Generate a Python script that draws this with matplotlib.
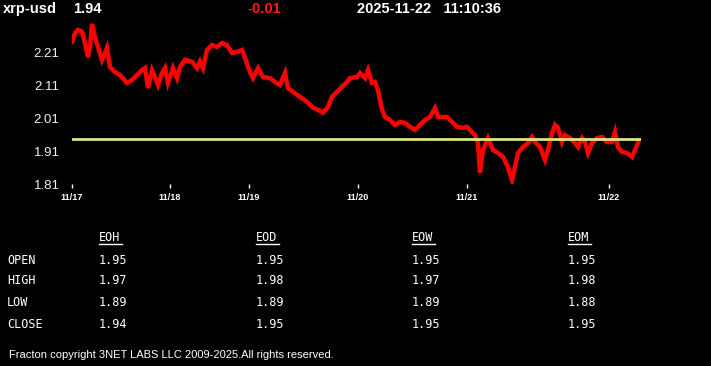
import matplotlib
matplotlib.use("Agg")
import matplotlib.pyplot as plt
from matplotlib.lines import Line2D

# price trace (sample position, price)
pos = [0, 3, 6, 10, 13, 16, 18, 20, 23, 26, 30, 33, 35, 38, 43, 48, 55, 60, 65, 70,
       73, 76, 80, 83, 86, 90, 93, 96, 101, 105, 108, 113, 120, 125, 128, 131, 135, 140,
       145, 150, 155, 160, 165, 170, 173, 178, 181, 186, 191, 198, 203, 208, 213, 216,
       221, 228, 235, 241, 246, 251, 256, 260, 265, 270, 275, 278, 285, 288, 293, 296,
       300, 303, 306, 310, 313, 318, 323, 328, 333, 338, 343, 348, 353, 358, 363, 366,
       370, 375, 380, 385, 390, 395, 400, 403, 406, 408, 411, 416, 421, 426, 431, 436,
       440, 443, 446, 451, 456, 460, 463, 468, 473, 476, 480, 483, 486, 490, 493, 498,
       503, 506, 510, 513, 516, 520, 525, 530, 535, 540, 543, 546, 550, 555, 560, 563, 566]
price = [2.242, 2.268, 2.278, 2.272, 2.238, 2.196, 2.226, 2.296, 2.256, 2.226, 2.187,
         2.208, 2.223, 2.165, 2.150, 2.141, 2.117, 2.126, 2.141, 2.156, 2.162, 2.102,
         2.156, 2.135, 2.111, 2.147, 2.162, 2.117, 2.162, 2.132, 2.165, 2.187, 2.181,
         2.162, 2.182, 2.162, 2.217, 2.232, 2.226, 2.238, 2.232, 2.208, 2.211, 2.217,
         2.193, 2.150, 2.132, 2.162, 2.135, 2.132, 2.120, 2.111, 2.147, 2.102, 2.090,
         2.075, 2.060, 2.042, 2.036, 2.027, 2.044, 2.075, 2.090, 2.105, 2.120, 2.132,
         2.135, 2.147, 2.132, 2.156, 2.117, 2.120, 2.096, 2.036, 2.014, 2.005, 1.990,
         1.999, 1.996, 1.984, 1.975, 1.990, 2.005, 2.014, 2.041, 2.014, 2.014, 2.014,
         1.999, 1.984, 1.981, 1.984, 1.968, 1.959, 1.935, 1.845, 1.914, 1.950, 1.914,
         1.905, 1.893, 1.862, 1.823, 1.862, 1.905, 1.923, 1.935, 1.953, 1.938, 1.923,
         1.884, 1.914, 1.965, 1.990, 1.981, 1.938, 1.959, 1.950, 1.935, 1.923, 1.950,
         1.938, 1.905, 1.935, 1.950, 1.953, 1.938, 1.938, 1.968, 1.923, 1.908, 1.905,
         1.893, 1.914, 1.935]
ref_level = 1.947

tick_pos = [0, 98, 177, 286, 395, 537]
tick_lbl = ["11/17", "11/18", "11/19", "11/20", "11/21", "11/22"]
y_ticks = [1.81, 1.91, 2.01, 2.11, 2.21]

symbol = "xrp-usd"
last = "1.94"
change = "-0.01"
stamp = "2025-11-22   11:10:36"

cols = ["EOH", "EOD", "EOW", "EOM"]
rows = ["OPEN", "HIGH", "LOW", "CLOSE"]
table = [["1.95", "1.95", "1.95", "1.95"],
         ["1.97", "1.98", "1.97", "1.98"],
         ["1.89", "1.89", "1.89", "1.88"],
         ["1.94", "1.95", "1.95", "1.95"]]

W, H = 711, 366
fig = plt.figure(figsize=(W / 100, H / 100), dpi=100, facecolor="black")
ax = fig.add_axes([72 / W, 1 - 184.3 / H, 569 / W, 168.3 / H], facecolor="black")

ax.plot(pos, price, color="#ff0000", lw=3.2, solid_joinstyle="miter")
ax.axhline(ref_level, color="#dce682", lw=2)
ax.set_xlim(0, 569)
ax.set_ylim(1.81, 2.32)
for s in ax.spines.values():
    s.set_visible(False)
ax.set_xticks(tick_pos)
ax.set_xticklabels(tick_lbl, fontsize=6.5, fontweight="bold", family="Liberation Sans")
ax.set_yticks(y_ticks)
ax.set_yticklabels(["%.2f" % v for v in y_ticks], fontsize=9.5, family="Liberation Sans")
ax.tick_params(axis="x", colors="white", length=3, width=1, pad=3)
ax.tick_params(axis="y", colors="#f0f0f0", length=0, pad=9)

# header line
hdr = dict(fontsize=10.5, fontweight="bold", family="Liberation Sans", va="center")
fig.text(3 / W, 1 - 9 / H, symbol, color="white", **hdr)
fig.text(73 / W, 1 - 9 / H, last, color="white", **hdr)
fig.text(247 / W, 1 - 9 / H, change, color="#ff1a1a", **hdr)
fig.text(357 / W, 1 - 9 / H, stamp, color="white", **hdr)

# OHLC table
col_x = [99, 256, 412, 568]
row_y = [260, 281, 303, 325]
mono = dict(fontsize=8.5, family="DejaVu Sans Mono", color="white", va="center")
for cx, name in zip(col_x, cols):
    t = fig.text(cx / W, 1 - 238 / H, name, **mono)
    fig.add_artist(Line2D([cx / W, (cx + 23) / W], [1 - 244 / H, 1 - 244 / H],
                          color="white", lw=1, transform=fig.transFigure))
for ry, name, vals in zip(row_y, rows, table):
    fig.text(7 / W, 1 - ry / H, name, **mono)
    for cx, v in zip(col_x, vals):
        fig.text(cx / W, 1 - ry / H, v, **mono)

fig.text(9 / W, 1 - 355 / H, "Fracton copyright 3NET LABS LLC 2009-2025.All rights reserved.",
         fontsize=8, family="Liberation Sans", color="white", va="center")

fig.savefig("out.png", dpi=100, facecolor="black")
